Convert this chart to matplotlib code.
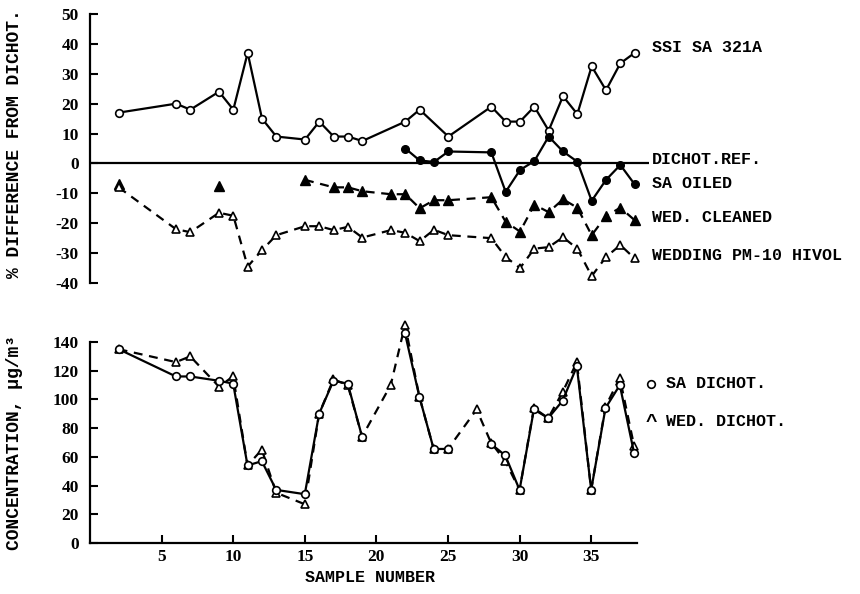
import numpy as np
import matplotlib
matplotlib.use("Agg")
import matplotlib.pyplot as plt

plt.rcParams["axes.unicode_minus"] = False

nan = np.nan

# top panel: % difference from dichot
ssi_x = [2, 6, 7, 9, 10, 11, 12, 13, 15, 16, 17, 18, 19, 22, 23, 25, 28, 29, 30,
         31, 32, 33, 34, 35, 36, 37, 38]
ssi_y = [17, 20, 18, 24, 18, 37, 15, 9, 8, 14, 9, 9, 7.5, 14, 18, 9, 19, 14, 14,
         19, 11, 22.5, 16.5, 32.5, 24.5, 33.5, 37]

oiled_x = [22, 23, 24, 25, 28, 29, 30, 31, 32, 33, 34, 35, 36, 37, 38]
oiled_y = [5, 1, 0.5, 4, 3.7, -9.5, -2.2, 0.8, 9, 4, 0.6, -12.5, -5.5, -0.5, -7]

cleaned_single_x = [2, 9]
cleaned_single_y = [-7, -7.5]
cleaned_x = [15, 17, 18, 19, 21, 22, 23, 24, 25, 28, 29, 30, 31, 32, 33, 34, 35,
             36, 37, 38]
cleaned_y = [-5.5, -8, -8, -9.3, -10.3, -10.3, -15, -12.3, -12.3, -11.3, -19.5,
             -22.8, -13.8, -16.3, -12, -14.8, -24, -17.6, -14.8, -19]

hivol_x = [2, 6, 7, 9, 10, 11, 12, 13, 15, 16, 17, 18, 19, 21, 22, 23, 24, 25, 28,
           29, 30, 31, 32, 33, 34, 35, 36, 37, 38]
hivol_y = [-8, -22, -23, -16.5, -17.5, -34.5, -29, -24, -21, -21, -22.3, -21.2,
           -24.8, -22.3, -23.2, -26, -22.2, -24, -25, -31.3, -35, -28.5, -28,
           -24.7, -28.5, -37.7, -31.3, -27.3, -31.8]

# bottom panel: concentration
conc_x = [2, 6, 7, 9, 10, 11, 12, 13, 15, 16, 17, 18, 19, 21, 22, 23, 24, 25, 27,
          28, 29, 30, 31, 32, 33, 34, 35, 36, 37, 38]
sa_dichot = [135, 116, 116, 113, 111, 54, 57, 37, 34, 90, 113, 111, 74, nan, 146,
             102, 65.5, 65.5, nan, 69, 61, 37, 93, 87, 99, 123, 37, 94, 110, 62.5]
wed_dichot = [135, 126, 130, 109, 116, 54, 65, 35, 27, 90, 114, 110, 74, 110, 152,
              102, 65.5, 65.5, 93, 70, 57, 37, 94, 87, 105, 126, 37, 95, 115, 67.5]

top_ticks = [-40, -30, -20, -10, 0, 10, 20, 30, 40, 50]
bot_ticks = [0, 20, 40, 60, 80, 100, 120, 140]
x_ticks = [5, 10, 15, 20, 25, 30, 35]

mono = dict(family="Liberation Mono", weight="bold")
serif = dict(family="Liberation Serif", weight="bold", size=12.5)

fig = plt.figure(figsize=(8.6, 5.94), dpi=100)
W, H = 860.0, 594.0
ax1 = fig.add_axes([90 / W, 1 - 283 / H, 559 / W, 269 / H])
ax2 = fig.add_axes([90 / W, 1 - 543 / H, 547 / W, 201 / H])

lw = 1.6
circ_open = dict(marker="o", ms=5.5, mfc="white", mec="black", mew=1.2)
circ_fill = dict(marker="o", ms=5.5, mfc="black", mec="black", mew=1.0)
tri_open = dict(marker="^", ms=6, mfc="white", mec="black", mew=1.2)
tri_fill = dict(marker="^", ms=6.5, mfc="black", mec="black", mew=1.0)

# ---- top panel
ax1.axhline(0, color="black", lw=1.6, zorder=1)
ax1.plot(ssi_x, ssi_y, color="black", lw=lw, **circ_open, zorder=3)
ax1.plot(oiled_x, oiled_y, color="black", lw=lw, **circ_fill, zorder=3)
ax1.plot(cleaned_x, cleaned_y, color="black", lw=lw, ls=(0, (4, 3)), **tri_fill, zorder=3)
ax1.plot(cleaned_single_x, cleaned_single_y, ls="none", **tri_fill, zorder=3)
ax1.plot(hivol_x, hivol_y, color="black", lw=lw, ls=(0, (4, 3)), **tri_open, zorder=3)
ax1.set_xlim(0, 39)
ax1.set_ylim(-40, 50)
ax1.set_yticks(top_ticks)
ax1.set_xticks([])
for s in ["top", "right", "bottom"]:
    ax1.spines[s].set_visible(False)
ax1.spines["left"].set_linewidth(1.6)

# ---- bottom panel
ax2.plot(conc_x, wed_dichot, color="black", lw=lw, ls=(0, (4, 3)), **tri_open,
         clip_on=False, zorder=3)
ax2.plot(conc_x, sa_dichot, color="black", lw=lw, **circ_open, clip_on=False, zorder=4)
ax2.set_xlim(0, 38.2)
ax2.set_ylim(0, 140)
ax2.set_yticks(bot_ticks)
ax2.set_xticks(x_ticks)
for s in ["top", "right"]:
    ax2.spines[s].set_visible(False)
ax2.spines["left"].set_linewidth(1.6)
ax2.spines["bottom"].set_linewidth(1.6)

for ax in (ax1, ax2):
    ax.tick_params(direction="in", length=6, width=1.5, pad=8)
    for lab in ax.get_yticklabels() + ax.get_xticklabels():
        lab.set_fontfamily(serif["family"])
        lab.set_fontweight("bold")
        lab.set_fontsize(serif["size"])

ax2.tick_params(axis="x", pad=4)

# axis labels
fig.text(15 / W, 1 - 144 / H, "% DIFFERENCE FROM DICHOT.", rotation=90,
         ha="center", va="center", fontsize=13, **mono)
fig.text(15 / W, 1 - 442 / H, "CONCENTRATION, \u03bcg/m\u00b3", rotation=90,
         ha="center", va="center", fontsize=13, **mono)
fig.text(370 / W, 1 - 578 / H, "SAMPLE NUMBER", ha="center", va="center",
         fontsize=12, **mono)

# series labels on the right of the top panel
labels = [("SSI SA 321A", 47), ("DICHOT.REF.", 159), ("SA OILED", 184),
          ("WED. CLEANED", 218), ("WEDDING PM-10 HIVOL", 256)]
for txt, ypx in labels:
    fig.text(652 / W, 1 - ypx / H, txt, ha="left", va="center", fontsize=12, **mono)

# key for bottom panel
ax2.plot([(651 - 90) / 547], [(543 - 384) / 201], transform=ax2.transAxes,
         clip_on=False, ls="none", **circ_open)
fig.text(666 / W, 1 - 384 / H, "SA DICHOT.", ha="left", va="center", fontsize=12, **mono)
fig.text(651 / W, 1 - 423 / H, "^", ha="center", va="center", fontsize=14, **mono)
fig.text(666 / W, 1 - 421 / H, "WED. DICHOT.", ha="left", va="center", fontsize=12, **mono)

fig.savefig("out.png", dpi=100)
